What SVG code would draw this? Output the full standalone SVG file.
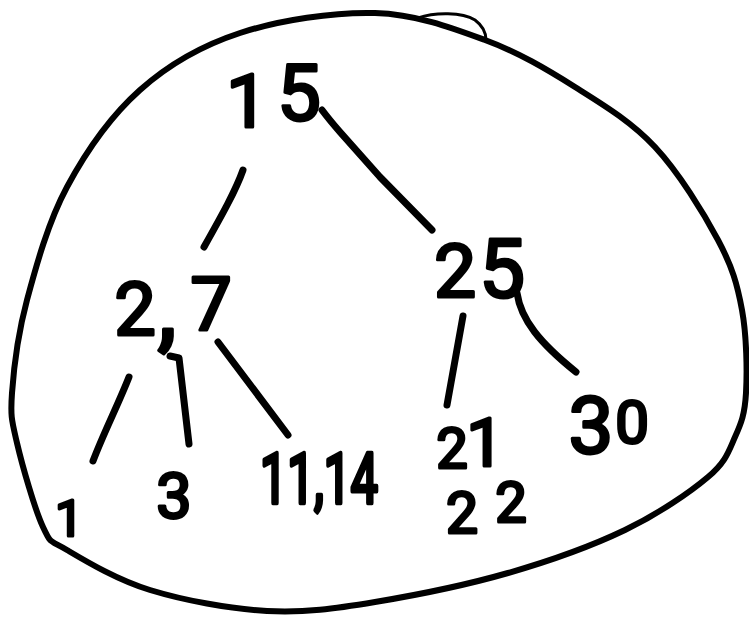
<svg xmlns="http://www.w3.org/2000/svg" width="749" height="620" viewBox="0 0 749 620">
<style>
.lbl{font-family:Roboto,"Liberation Sans",Arial,sans-serif;fill:#000;stroke:#000;stroke-width:3;stroke-linejoin:round;text-anchor:middle}
.edge{fill:none;stroke:#000;stroke-width:7;stroke-linecap:round;stroke-linejoin:round}
.outline{fill:none;stroke:#000;stroke-width:6;stroke-linejoin:round}
.loop{fill:none;stroke:#000;stroke-width:3;stroke-linecap:round}
</style>
<rect width="749" height="620" fill="#fff"/>
<g id="outline">
<path class="outline" d="M375,13 C415.8,14.2 451.7,27.7 485,40 C518.3,52.3 546.7,69.2 575,87 C603.3,104.8 631.2,121.5 655,147 C678.8,172.5 703.5,212.8 718,240 C732.5,267.2 737.3,284.5 742,310 C746.7,335.5 747.2,371.8 746,393 C744.8,414.2 741.3,423 735,437 C728.7,451 726.3,461.5 708,477 C689.7,492.5 658.3,514 625,530 C591.7,546 549.7,561 508,573 C466.3,585 415.2,595.3 375,602 C334.8,608.7 304.5,613 267,611 C229.5,609 183.3,600.2 150,590 C116.7,579.8 84.8,560.5 67,550 C49.2,539.5 51.3,544.8 43,527 C34.7,509.2 22.2,465.3 17,443 C11.8,420.7 10.3,416.8 12,393 C13.7,369.2 17.8,334.3 27,300 C36.2,265.7 48.2,222 67,187 C85.8,152 111.2,115.7 140,90 C168.8,64.3 200.8,45.8 240,33 C279.2,20.2 334.2,11.8 375,13 Z"/>
<path class="loop" d="M418,18 C435,12 462,12 475,20 C483,26 486,32 486,40"/>
</g>
<g id="connectors">
<path class="edge" d="M243,170 C236,190 222,215 204,247"/>
<path class="edge" d="M322,110 C328,118 333,124 340,132 L380,177 L432,230"/>
<path class="edge" d="M129,377 C118,405 104,432 93,461"/>
<path class="edge" d="M170,356 L179,358 L189,444"/>
<path class="edge" d="M218,342 L288,435"/>
<path class="edge" d="M463,316 L447,405"/>
<path class="edge" d="M517,293 C521,320 540,343 576,372"/>
</g>
<g id="node-15"><text class="lbl" font-size="75"><tspan x="247" y="127">1</tspan><tspan x="299" y="120" font-size="78">5</tspan></text></g>
<g id="node-2-7"><text class="lbl" font-size="74"><tspan x="135" y="335">2</tspan><tspan x="167" y="340" font-size="100">,</tspan><tspan x="211" y="330">7</tspan></text></g>
<g id="node-25"><text class="lbl" font-size="75"><tspan x="455" y="297">2</tspan><tspan x="502" y="297" font-size="82">5</tspan></text></g>
<g id="node-1"><text class="lbl" font-size="50" x="69" y="536">1</text></g>
<g id="node-3"><text class="lbl" font-size="63" x="174" y="518">3</text></g>
<g id="node-11-14"><text class="lbl" font-size="70" x="260" y="503" textLength="118" lengthAdjust="spacingAndGlyphs" style="text-anchor:start;stroke-width:4.5">11,14</text></g>
<g id="node-21-22"><text class="lbl" font-size="56"><tspan x="452" y="468">2</tspan><tspan x="485" y="466" font-size="67">1</tspan></text><text class="lbl" font-size="57"><tspan x="462" y="533">2</tspan><tspan x="511" y="522" font-size="56">2</tspan></text></g>
<g id="node-30"><text class="lbl" font-size="80"><tspan x="591" y="453">3</tspan><tspan x="632" y="443" font-size="60">0</tspan></text></g>
</svg>
